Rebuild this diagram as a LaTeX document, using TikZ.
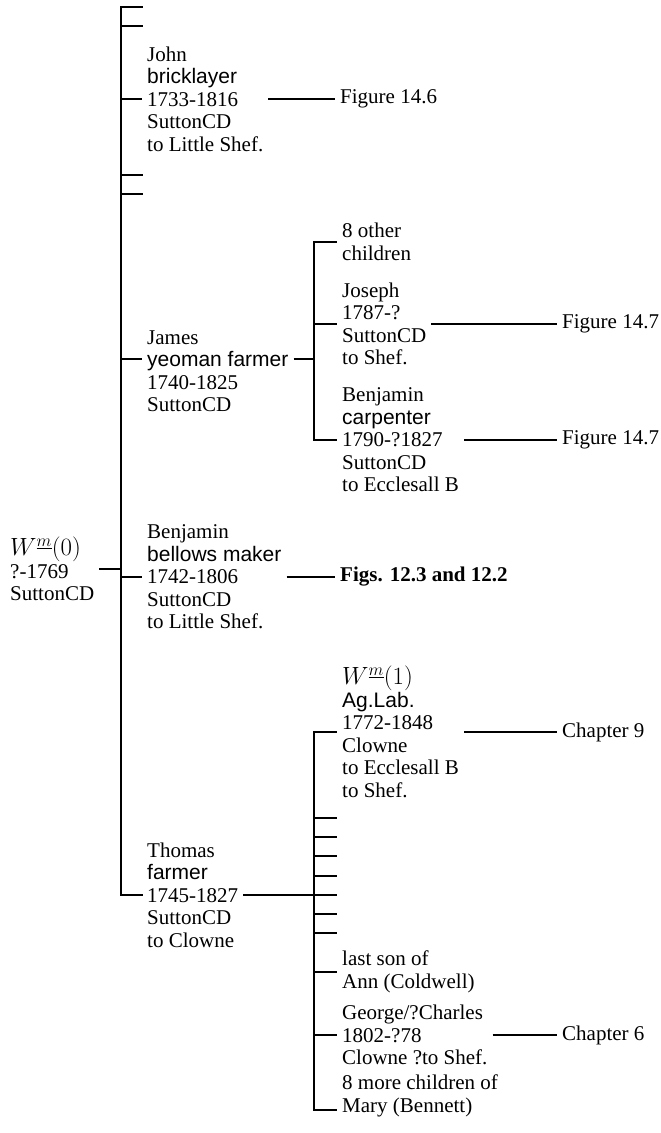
\documentclass[tikz,border=0pt]{standalone}
\usepackage{fontspec}
\setmainfont{Liberation Serif}
\setsansfont{Liberation Sans}
\usepackage{tikz}
\newcommand{\wm}[1]{{\fontsize{25}{22.5}\selectfont$W^{\underline{m}}(#1)$}}

\begin{document}
\begin{tikzpicture}[x=1pt, y=-1pt,
  every node/.style={font=\fontsize{21}{22.5}\selectfont},
  person/.style={anchor=west, align=left, inner xsep=5pt, inner ysep=0pt},
  fig/.style={anchor=west, inner xsep=5pt, inner ysep=0pt},
  trunk/.style={line width=2.4pt, line cap=rect},
  twig/.style={line width=1.8pt},
  link/.style={line width=1.5pt}]
	\useasboundingbox (0,0) rectangle (661,1133);
	% founder
	\node[person] (wzero) at (5,569) {\wm{0}\\?-1769\\SuttonCD};
	% his sons
	\node[person] (john) at (142,99) {John\\\textsf{bricklayer}\\1733-1816\\SuttonCD\\to Little Shef.};
	\node[person] (james) at (142,371) {James\\\textsf{yeoman farmer}\\1740-1825\\SuttonCD};
	\node[person] (benj) at (142,577) {Benjamin\\\textsf{bellows maker}\\1742-1806\\SuttonCD\\to Little Shef.};
	\node[person] (thomas) at (142,895) {Thomas\\\textsf{farmer}\\1745-1827\\SuttonCD\\to Clowne};
	% children of James
	\node[person] (other) at (337,242) {8 other\\children};
	\node[person] (joseph) at (337,324) {Joseph\\1787-?\\SuttonCD\\to Shef.};
	\node[person] (benc) at (337,440) {Benjamin\\\textsf{carpenter}\\1790-?1827\\SuttonCD\\to Ecclesall B};
	% children of Thomas
	\node[person] (wone) at (337,732) {\wm{1}\\\textsf{Ag.Lab.}\\1772-1848\\Clowne\\to Ecclesall B\\to Shef.};
	\node[person] (lastson) at (337,972) {last son of\\Ann (Coldwell)};
	\node[person] (george) at (337,1035) {George/?Charles\\1802-?78\\Clowne ?to Shef.};
	\node[person] (more) at (337,1096) {8 more children of\\Mary (Bennett)};
	% where to look next
	\node[fig] (fig146) at (335,99) {Figure 14.6};
	\node[fig] (figs) at (335,577) {\textbf{Figs. 12.3 and 12.2}};
	\node[fig] (fig147a) at (557,324) {Figure 14.7};
	\node[fig] (fig147b) at (557,440) {Figure 14.7};
	\node[fig] (chnine) at (557,732) {Chapter 9};
	\node[fig] (chsix) at (557,1035) {Chapter 6};

	% main line
	\coordinate (trunktop) at (121,7);
	\draw[trunk] (trunktop) -- (trunktop |- thomas.west) -- (thomas.west);
	\draw[trunk, line cap=butt] (wzero.east) -- (wzero.east -| trunktop);
	\foreach \y in {7,26,175,194}
		\draw[twig] (121,\y) -- (143,\y);
	\foreach \n in {john,benj}
		\draw[twig] (\n.west -| trunktop) -- (\n.west);
	\coordinate (jamesjoint) at (121,359);
	\draw[twig] (jamesjoint) -- (jamesjoint -| james.west);

	% James' family
	\coordinate (jamesfork) at (314,359);
	\draw[twig] (jamesfork -| james.east) -- (jamesfork);
	\draw[trunk] (other.west -| jamesfork) -- (benc.west -| jamesfork);
	\foreach \n in {other,joseph,benc}
		\draw[twig] (\n.west -| jamesfork) -- (\n.west);

	% Thomas' family
	\coordinate (thomasfork) at (314,895);
	\coordinate (morecorner) at (314,1110);
	\draw[trunk] (wone.west -| thomasfork) -- (morecorner);
	\foreach \y in {818,837,856,876,914,933}
		\draw[twig] (314,\y) -- (337,\y);
	\draw[twig] (thomas.east) -- (thomasfork) -- ++(23,0);
	\foreach \n in {wone,lastson,george}
		\draw[twig] (\n.west -| thomasfork) -- (\n.west);
	\draw[twig] (morecorner) -- (morecorner -| more.west);

	% links
	\draw[link] (john.east) -- (fig146.west);
	\draw[link] (benj.east) -- (figs.west);
	\draw[link] (joseph.east) -- (fig147a.west);
	\draw[link] (benc.east) -- (fig147b.west);
	\draw[link] (wone.east) -- (chnine.west);
	\draw[link] (george.east) -- (chsix.west);
\end{tikzpicture}
\end{document}
